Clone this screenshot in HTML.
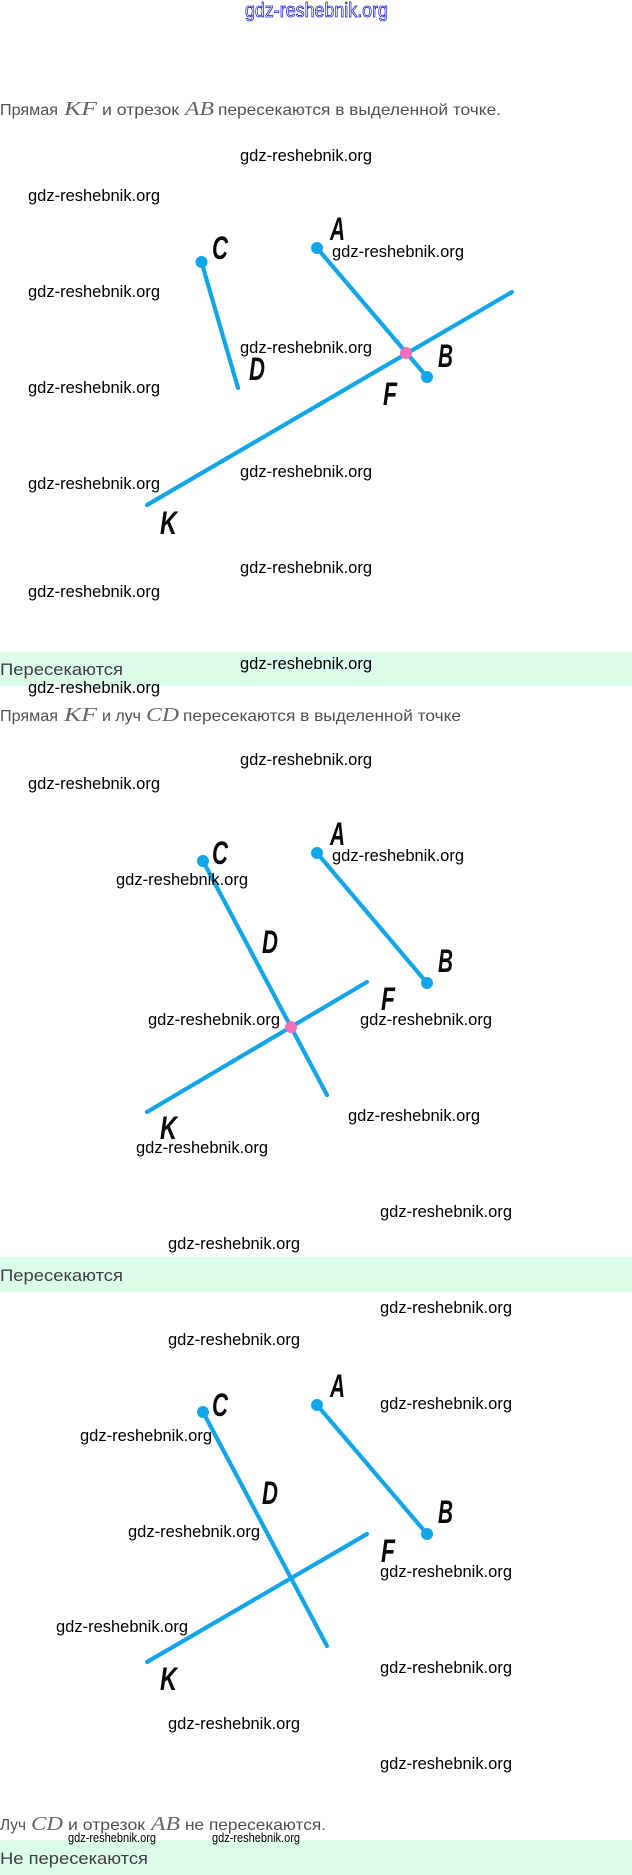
<!DOCTYPE html>
<html lang="ru">
<head>
<meta charset="utf-8">
<title>Прямая, луч, отрезок</title>
<style>
html,body{margin:0;padding:0;background:#fff;width:632px;height:1875px;overflow:hidden}
svg{display:block}
text{font-family:"Liberation Sans",sans-serif}
.w{font-size:16.5px;fill:#000}
.s{font-size:12.5px;fill:#000}
.t{font-size:16px;fill:#505050}
.a{font-size:17px;fill:#404040}
.m{font-family:"Liberation Serif",serif;font-style:italic;font-size:20px;fill:#666}
.l{font-weight:bold;font-style:italic;font-size:32px;fill:#0a0a0a}
.ln{stroke:#12a5e8;stroke-width:4.2;stroke-linecap:round;fill:none}
.d{fill:#12a5e8}
.p{fill:#f56fb8}
</style>
</head>
<body>
<svg xmlns="http://www.w3.org/2000/svg" width="632" height="1875" viewBox="0 0 632 1875">
<rect width="632" height="1875" fill="#fff"/>
<rect x="0" y="652" width="632" height="34" fill="#dbfce8"/>
<rect x="0" y="1257" width="632" height="35" fill="#dbfce8"/>
<rect x="0" y="1840" width="632" height="35" fill="#dbfce8"/>

<text x="245" y="17" font-size="20" fill="#fff" stroke="#1a1ad8" stroke-width="0.8" textLength="143" lengthAdjust="spacingAndGlyphs">gdz-reshebnik.org</text>

<!-- Diagram 1 -->
<line class="ln" x1="201.5" y1="262" x2="238" y2="388"/>
<line class="ln" x1="317" y1="248" x2="427" y2="377"/>
<line class="ln" x1="512" y1="292" x2="147" y2="505"/>
<circle class="d" cx="201.5" cy="262" r="6"/>
<circle class="d" cx="317" cy="248" r="6"/>
<circle class="d" cx="427" cy="377" r="6"/>
<circle class="p" cx="406" cy="353" r="6"/>
<text class="l" x="212" y="259" textLength="16" lengthAdjust="spacingAndGlyphs">C</text>
<text class="l" x="330" y="240" textLength="15" lengthAdjust="spacingAndGlyphs">A</text>
<text class="l" x="438" y="367" textLength="15" lengthAdjust="spacingAndGlyphs">B</text>
<text class="l" x="249" y="380" textLength="16" lengthAdjust="spacingAndGlyphs">D</text>
<text class="l" x="383" y="405" textLength="14" lengthAdjust="spacingAndGlyphs">F</text>
<text class="l" x="160" y="534" textLength="17" lengthAdjust="spacingAndGlyphs">K</text>

<!-- Diagram 2 -->
<line class="ln" x1="203" y1="861" x2="327" y2="1095"/>
<line class="ln" x1="317" y1="853" x2="427" y2="983"/>
<line class="ln" x1="367" y1="982" x2="147" y2="1112"/>
<circle class="d" cx="203" cy="861" r="6"/>
<circle class="d" cx="317" cy="853" r="6"/>
<circle class="d" cx="427" cy="983" r="6"/>
<circle class="p" cx="291" cy="1027" r="6"/>
<text class="l" x="212" y="864" textLength="16" lengthAdjust="spacingAndGlyphs">C</text>
<text class="l" x="330" y="845" textLength="15" lengthAdjust="spacingAndGlyphs">A</text>
<text class="l" x="262" y="953" textLength="16" lengthAdjust="spacingAndGlyphs">D</text>
<text class="l" x="438" y="972" textLength="15" lengthAdjust="spacingAndGlyphs">B</text>
<text class="l" x="381" y="1010" textLength="14" lengthAdjust="spacingAndGlyphs">F</text>
<text class="l" x="160" y="1139" textLength="17" lengthAdjust="spacingAndGlyphs">K</text>

<!-- Diagram 3 -->
<line class="ln" x1="203" y1="1412" x2="327" y2="1646"/>
<line class="ln" x1="317" y1="1405" x2="427" y2="1534"/>
<line class="ln" x1="367" y1="1534" x2="147" y2="1662"/>
<circle class="d" cx="203" cy="1412" r="6"/>
<circle class="d" cx="317" cy="1405" r="6"/>
<circle class="d" cx="427" cy="1534" r="6"/>
<text class="l" x="212" y="1416" textLength="16" lengthAdjust="spacingAndGlyphs">C</text>
<text class="l" x="330" y="1397" textLength="15" lengthAdjust="spacingAndGlyphs">A</text>
<text class="l" x="262" y="1504" textLength="16" lengthAdjust="spacingAndGlyphs">D</text>
<text class="l" x="438" y="1523" textLength="15" lengthAdjust="spacingAndGlyphs">B</text>
<text class="l" x="381" y="1562" textLength="14" lengthAdjust="spacingAndGlyphs">F</text>
<text class="l" x="160" y="1690" textLength="17" lengthAdjust="spacingAndGlyphs">K</text>

<!-- Text line 1 -->
<text class="t" x="0" y="115" textLength="58" lengthAdjust="spacingAndGlyphs">Прямая</text>
<text class="m" x="64" y="115" textLength="33" lengthAdjust="spacingAndGlyphs">KF</text>
<text class="t" x="102" y="115" textLength="77" lengthAdjust="spacingAndGlyphs">и отрезок</text>
<text class="m" x="185" y="115" textLength="29" lengthAdjust="spacingAndGlyphs">AB</text>
<text class="t" x="218" y="115" textLength="283" lengthAdjust="spacingAndGlyphs">пересекаются в выделенной точке.</text>
<text class="a" x="0" y="675" textLength="123" lengthAdjust="spacingAndGlyphs">Пересекаются</text>

<!-- Text line 2 -->
<text class="t" x="0" y="721" textLength="58" lengthAdjust="spacingAndGlyphs">Прямая</text>
<text class="m" x="64" y="721" textLength="33" lengthAdjust="spacingAndGlyphs">KF</text>
<text class="t" x="102" y="721" textLength="39" lengthAdjust="spacingAndGlyphs">и луч</text>
<text class="m" x="146" y="721" textLength="33" lengthAdjust="spacingAndGlyphs">CD</text>
<text class="t" x="183" y="721" textLength="278" lengthAdjust="spacingAndGlyphs">пересекаются в выделенной точке</text>
<text class="a" x="0" y="1281" textLength="123" lengthAdjust="spacingAndGlyphs">Пересекаются</text>

<!-- Text line 3 -->
<text class="t" x="0" y="1830" textLength="26" lengthAdjust="spacingAndGlyphs">Луч</text>
<text class="m" x="31" y="1830" textLength="32" lengthAdjust="spacingAndGlyphs">CD</text>
<text class="t" x="68" y="1830" textLength="77" lengthAdjust="spacingAndGlyphs">и отрезок</text>
<text class="m" x="151" y="1830" textLength="29" lengthAdjust="spacingAndGlyphs">AB</text>
<text class="t" x="185" y="1830" textLength="141" lengthAdjust="spacingAndGlyphs">не пересекаются.</text>
<text class="a" x="0" y="1864" textLength="148" lengthAdjust="spacingAndGlyphs">Не пересекаются</text>

<!-- Watermarks -->
<g transform="translate(0,-1)">
<text class="w" x="240" y="162" textLength="132" lengthAdjust="spacingAndGlyphs">gdz-reshebnik.org</text>
<text class="w" x="28" y="202" textLength="132" lengthAdjust="spacingAndGlyphs">gdz-reshebnik.org</text>
<text class="w" x="332" y="258" textLength="132" lengthAdjust="spacingAndGlyphs">gdz-reshebnik.org</text>
<text class="w" x="28" y="298" textLength="132" lengthAdjust="spacingAndGlyphs">gdz-reshebnik.org</text>
<text class="w" x="240" y="354" textLength="132" lengthAdjust="spacingAndGlyphs">gdz-reshebnik.org</text>
<text class="w" x="28" y="394" textLength="132" lengthAdjust="spacingAndGlyphs">gdz-reshebnik.org</text>
<text class="w" x="240" y="478" textLength="132" lengthAdjust="spacingAndGlyphs">gdz-reshebnik.org</text>
<text class="w" x="28" y="490" textLength="132" lengthAdjust="spacingAndGlyphs">gdz-reshebnik.org</text>
<text class="w" x="240" y="574" textLength="132" lengthAdjust="spacingAndGlyphs">gdz-reshebnik.org</text>
<text class="w" x="28" y="598" textLength="132" lengthAdjust="spacingAndGlyphs">gdz-reshebnik.org</text>
<text class="w" x="240" y="670" textLength="132" lengthAdjust="spacingAndGlyphs">gdz-reshebnik.org</text>
<text class="w" x="28" y="694" textLength="132" lengthAdjust="spacingAndGlyphs">gdz-reshebnik.org</text>
<text class="w" x="240" y="766" textLength="132" lengthAdjust="spacingAndGlyphs">gdz-reshebnik.org</text>
<text class="w" x="28" y="790" textLength="132" lengthAdjust="spacingAndGlyphs">gdz-reshebnik.org</text>
<text class="w" x="332" y="862" textLength="132" lengthAdjust="spacingAndGlyphs">gdz-reshebnik.org</text>
<text class="w" x="116" y="886" textLength="132" lengthAdjust="spacingAndGlyphs">gdz-reshebnik.org</text>
<text class="w" x="148" y="1026" textLength="132" lengthAdjust="spacingAndGlyphs">gdz-reshebnik.org</text>
<text class="w" x="360" y="1026" textLength="132" lengthAdjust="spacingAndGlyphs">gdz-reshebnik.org</text>
<text class="w" x="348" y="1122" textLength="132" lengthAdjust="spacingAndGlyphs">gdz-reshebnik.org</text>
<text class="w" x="136" y="1154" textLength="132" lengthAdjust="spacingAndGlyphs">gdz-reshebnik.org</text>
<text class="w" x="380" y="1218" textLength="132" lengthAdjust="spacingAndGlyphs">gdz-reshebnik.org</text>
<text class="w" x="168" y="1250" textLength="132" lengthAdjust="spacingAndGlyphs">gdz-reshebnik.org</text>
<text class="w" x="380" y="1314" textLength="132" lengthAdjust="spacingAndGlyphs">gdz-reshebnik.org</text>
<text class="w" x="168" y="1346" textLength="132" lengthAdjust="spacingAndGlyphs">gdz-reshebnik.org</text>
<text class="w" x="380" y="1410" textLength="132" lengthAdjust="spacingAndGlyphs">gdz-reshebnik.org</text>
<text class="w" x="80" y="1442" textLength="132" lengthAdjust="spacingAndGlyphs">gdz-reshebnik.org</text>
<text class="w" x="128" y="1538" textLength="132" lengthAdjust="spacingAndGlyphs">gdz-reshebnik.org</text>
<text class="w" x="380" y="1578" textLength="132" lengthAdjust="spacingAndGlyphs">gdz-reshebnik.org</text>
<text class="w" x="56" y="1633" textLength="132" lengthAdjust="spacingAndGlyphs">gdz-reshebnik.org</text>
<text class="w" x="380" y="1674" textLength="132" lengthAdjust="spacingAndGlyphs">gdz-reshebnik.org</text>
<text class="w" x="168" y="1730" textLength="132" lengthAdjust="spacingAndGlyphs">gdz-reshebnik.org</text>
<text class="w" x="380" y="1770" textLength="132" lengthAdjust="spacingAndGlyphs">gdz-reshebnik.org</text>
<text class="s" x="68" y="1843" textLength="88" lengthAdjust="spacingAndGlyphs">gdz-reshebnik.org</text>
<text class="s" x="212" y="1843" textLength="88" lengthAdjust="spacingAndGlyphs">gdz-reshebnik.org</text>
</g>
</svg>
</body>
</html>
